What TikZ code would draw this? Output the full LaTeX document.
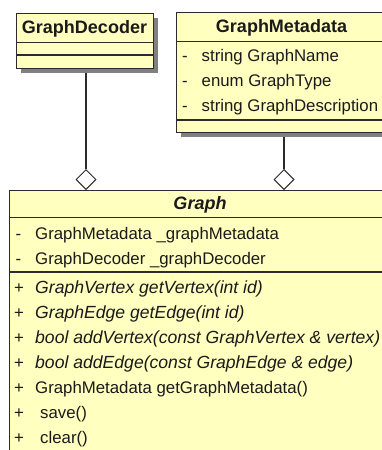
\documentclass[tikz,border=0pt]{standalone}
\usepackage{fontspec}
\setmainfont{Liberation Sans}
\usetikzlibrary{shapes.geometric,shadows,backgrounds}
\definecolor{umlfill}{HTML}{FFFFC0}
\definecolor{umlshadow}{HTML}{808080}
\definecolor{umlline}{HTML}{2B2B2B}
\definecolor{umltext}{HTML}{1A1A1A}
\tikzset{
  classbox/.style={draw=umlline, line width=1.3pt, fill=umlfill, rectangle, inner sep=0pt, anchor=north west,
    drop shadow={shadow xshift=4.5pt, shadow yshift=-4.5pt, fill=umlshadow, opacity=1}},
  divider/.style={draw=umlline, line width=1.1pt},
  classtitle/.style={font=\fontsize{18}{20}\selectfont\bfseries, text=umltext, anchor=base, inner sep=0pt},
  member/.style={font=\fontsize{16.8}{20}\selectfont, text=umltext, anchor=base west, inner sep=0pt},
  itmember/.style={member, font=\fontsize{17.6}{20}\selectfont\itshape},
  vismark/.style={font=\fontsize{16.8}{20}\selectfont, text=umltext, anchor=base, inner sep=0pt},
  aggdiamond/.style={diamond, draw=umlline, fill=white, line width=1pt, minimum width=20pt, minimum height=20pt, inner sep=0pt, anchor=south},
  link/.style={draw=umlline, line width=1.1pt},
}
\begin{document}
\begin{tikzpicture}[x=1pt, y=-1pt]
\useasboundingbox (0,0) rectangle (382,450);
\clip (0,0) rectangle (382,450);

% GraphDecoder
\node[classbox, minimum width=137pt, minimum height=55pt] (dec) at (16,13) {};
\draw[divider] (dec.west |- 0,42.5) -- (dec.east |- 0,42.5);
\draw[divider] (dec.west |- 0,55) -- (dec.east |- 0,55);
\node[classtitle] (decT) at (84.5,33.3) {GraphDecoder};

% GraphMetadata
\node[classbox, minimum width=211pt, minimum height=120pt] (meta) at (176,12) {};
\draw[divider] (meta.west |- 0,41.5) -- (meta.east |- 0,41.5);
\draw[divider] (meta.west |- 0,120) -- (meta.east |- 0,120);
\node[classtitle] (metaT) at (281.5,32.3) {GraphMetadata};
\node[vismark] (mv1) at (185,61) {-};
\node[member] (ma1) at (201.5,61) {string GraphName};
\node[vismark] (mv2) at (185,86) {-};
\node[member] (ma2) at (201.5,86) {enum GraphType};
\node[vismark] (mv3) at (185,111) {-};
\node[member] (ma3) at (201.5,111) {string GraphDescription};

% Graph
\node[classbox, minimum width=382pt, minimum height=280pt] (graph) at (9,190) {};
\draw[divider] (graph.west |- 0,217.5) -- (graph.east |- 0,217.5);
\draw[divider] (graph.west |- 0,272) -- (graph.east |- 0,272);
\node[classtitle, font=\fontsize{18}{20}\selectfont\bfseries\itshape] (graphT) at (200,209.3) {Graph};
\node[vismark] (gv1) at (18.5,239) {-};
\node[member] (ga1) at (35,239) {GraphMetadata \_graphMetadata};
\node[vismark] (gv2) at (18.5,264) {-};
\node[member] (ga2) at (35,264) {GraphDecoder \_graphDecoder};
\node[vismark] (gp1) at (19,293) {+};
\node[itmember] (gm1) at (35,293) {GraphVertex getVertex(int id)};
\node[vismark] (gp2) at (19,318) {+};
\node[itmember] (gm2) at (35,318) {GraphEdge getEdge(int id)};
\node[vismark] (gp3) at (19,343) {+};
\node[itmember] (gm3) at (35,343) {bool addVertex(const GraphVertex \& vertex)};
\node[vismark] (gp4) at (19,368) {+};
\node[itmember] (gm4) at (35,368) {bool addEdge(const GraphEdge \& edge)};
\node[vismark] (gp5) at (19,393.5) {+};
\node[member] (gm5) at (35,393.5) {GraphMetadata getGraphMetadata()};
\node[vismark] (gp6) at (19,418.5) {+};
\node[member] (gm6) at (40,418.5) {save()};
\node[vismark] (gp7) at (19,443) {+};
\node[member] (gm7) at (40,443) {clear()};

% aggregation diamonds
\node[aggdiamond] (d1) at (86,190) {};
\node[aggdiamond] (d2) at (284,190) {};

\begin{pgfonlayer}{background}
\fill[white] (0,0) rectangle (382,450);
\draw[link] (d1.north) -- (d1.north |- dec.south);
\draw[link] (d2.north) -- (d2.north |- meta.south);
\end{pgfonlayer}
\end{tikzpicture}
\end{document}
